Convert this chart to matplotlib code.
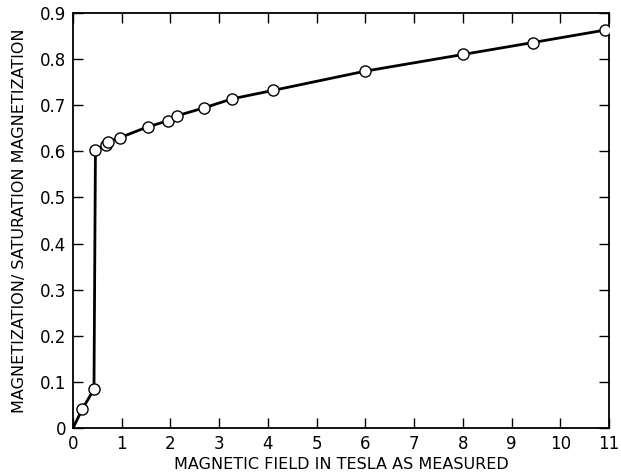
import matplotlib
matplotlib.use('Agg')
import matplotlib.pyplot as plt

# measured points (tesla, M/Ms)
field = [0.0, 0.19, 0.43, 0.46, 0.67, 0.72, 0.97, 1.53, 1.94, 2.13, 2.68, 3.27, 4.10, 6.0, 8.0, 9.44, 10.92]
mag = [0.0, 0.041, 0.084, 0.603, 0.614, 0.621, 0.630, 0.653, 0.666, 0.677, 0.694, 0.714, 0.732, 0.774, 0.810, 0.836, 0.863]

x_ticks = list(range(0, 12))
y_ticks = [0, 0.1, 0.2, 0.3, 0.4, 0.5, 0.6, 0.7, 0.8, 0.9]
y_labels = ['0', '0.1', '0.2', '0.3', '0.4', '0.5', '0.6', '0.7', '0.8', '0.9']

fig = plt.figure(figsize=(6.21, 4.76), dpi=100)
ax = fig.add_axes([0.1176, 0.1008, 0.8631, 0.8719])

ax.plot(field, mag, color='black', lw=2.0, zorder=2)
ax.plot(field[1:], mag[1:], 'o', ms=8, mfc='white', mec='black', mew=1.0, zorder=3)

ax.set_xlim(0, 11)
ax.set_ylim(0, 0.9)
ax.set_xticks(x_ticks)
ax.set_yticks(y_ticks)
ax.set_yticklabels(y_labels)
ax.tick_params(direction='in', top=True, right=True, length=7, width=1,
               labelsize=12, pad=5)
for s in ax.spines.values():
    s.set_linewidth(1.3)

ax.set_xlabel('MAGNETIC FIELD IN TESLA AS MEASURED', fontsize=11.5, labelpad=3)
ax.set_ylabel('MAGNETIZATION/ SATURATION MAGNETIZATION', fontsize=11.5, labelpad=9)

fig.savefig('out.png', dpi=100)
